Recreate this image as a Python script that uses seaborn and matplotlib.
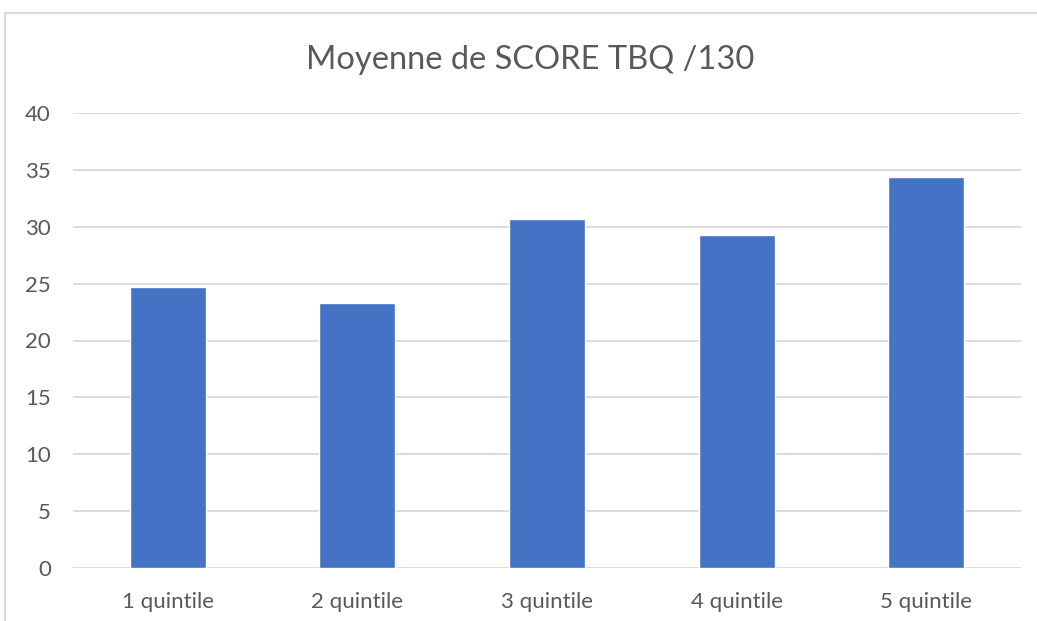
import matplotlib
matplotlib.use('Agg')
import matplotlib.pyplot as plt
import seaborn as sns
import pandas as pd
from matplotlib.patches import Rectangle

categories = ['1 quintile', '2 quintile', '3 quintile', '4 quintile', '5 quintile']
scores = [24.7, 23.3, 30.7, 29.3, 34.4]
yticks = [0, 5, 10, 15, 20, 25, 30, 35, 40]

df = pd.DataFrame({'quintile': categories, 'score': scores})

sns.set_style('white')
plt.rcParams['font.family'] = ['Lato', 'DejaVu Sans']

fig = plt.figure(figsize=(10.37, 6.21), dpi=100)
# chart frame like the spreadsheet export
fig.patches.append(Rectangle((5 / 1037, -0.05), 1.2, 1 - 13 / 621 + 0.05, transform=fig.transFigure,
                             fill=False, edgecolor='#d9d9d9', linewidth=1.5))
ax = fig.add_axes([73 / 1037, 1 - 568 / 621, 948 / 1037, 455 / 621])

sns.barplot(data=df, x='quintile', y='score', color='#4472c4', width=0.4, saturation=1, ax=ax, zorder=3)

ax.set_ylim(0, 40)
ax.set_yticks(yticks)
ax.set_xlim(-0.5, 4.5)
ax.grid(axis='y', color='#d9d9d9', linewidth=1.3, zorder=0)
for s in ax.spines.values():
    s.set_visible(False)
ax.tick_params(axis='both', length=0, labelsize=16, colors='#595959')
ax.tick_params(axis='x', pad=17)
ax.tick_params(axis='y', pad=16)
ax.set_xlabel('')
ax.set_ylabel('')
fig.text(530 / 1037, 1 - 60 / 621, 'Moyenne de SCORE TBQ /130', ha='center', va='center',
         fontsize=23.5, color='#595959')

fig.savefig('out.png', dpi=100)
